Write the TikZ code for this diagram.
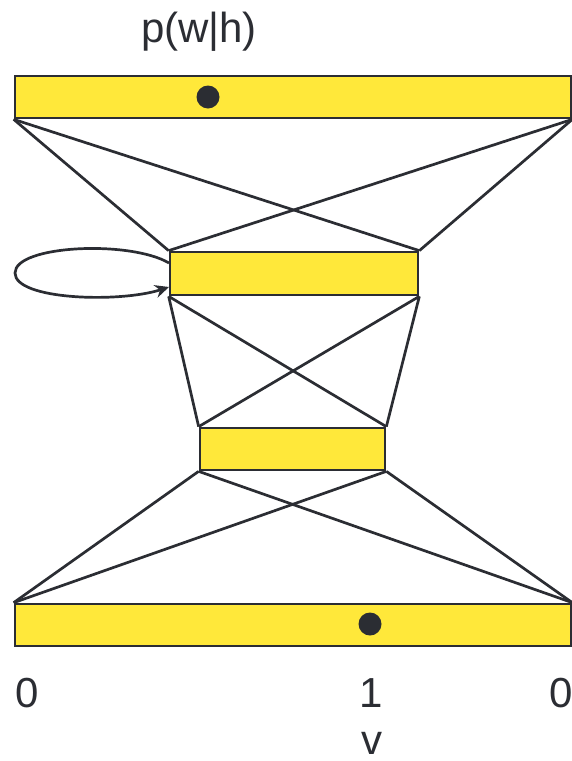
\documentclass[tikz,border=0pt]{standalone}
\usepackage{fontspec}
\setmainfont{Liberation Sans}
\usetikzlibrary{arrows.meta}
\definecolor{barfill}{HTML}{FFE83A}
\definecolor{inkgrey}{HTML}{2B2D33}
\begin{document}
\begin{tikzpicture}[x=1pt, y=-1pt, color=inkgrey, line width=2.7pt,
	layerbox/.style={rectangle, draw=inkgrey, fill=barfill, inner sep=0pt, line width=2.7pt},
	unitdot/.style={circle, fill=inkgrey, inner sep=0pt, minimum size=23pt},
	lbl/.style={font=\fontsize{42}{48}\selectfont, anchor=base, inner sep=0pt}]
		\useasboundingbox (0,0) rectangle (572,761);
		
		% Layers
		\node[layerbox, minimum width=556pt, minimum height=42pt] (output) at (293,97) {};
		\node[layerbox, minimum width=248pt, minimum height=43pt] (hidden1) at (294,273.5) {};
		\node[layerbox, minimum width=185pt, minimum height=42pt] (hidden2) at (292.5,449) {};
		\node[layerbox, minimum width=556pt, minimum height=42pt] (input) at (293,625) {};
		
		% Active units
		\node[unitdot] (outdot) at (208,97) {};
		\node[unitdot] (indot) at (370,624) {};
		
		% Full connections between layers
		\foreach \a in {west,east}
			\foreach \b in {west,east} {
				\draw (output.south \a) -- (hidden1.north \b);
				\draw (hidden1.south \a) -- (hidden2.north \b);
				\draw (hidden2.south \a) -- (input.north \b);
			}
		
		% Recurrent loop on first hidden layer
		\coordinate (loopout) at (169,263);
		\coordinate (loopin) at (169,287);
		\draw[-{Stealth[length=14pt,width=13pt]}] (loopout) .. controls (130,240) and (15,245) .. (15,273)
			.. controls (15,300) and (120,303) .. (loopin);
		
		% Labels
		\node[lbl] (pwh) at (199,42) {p(w|h)};
		\node[lbl] (zeroleft) at (27,707) {0};
		\node[lbl] (one) at (371,707) {1};
		\node[lbl] (zeroright) at (561,707) {0};
		\node[lbl] (vlabel) at (372,754) {v};
		
	\end{tikzpicture}
\end{document}
